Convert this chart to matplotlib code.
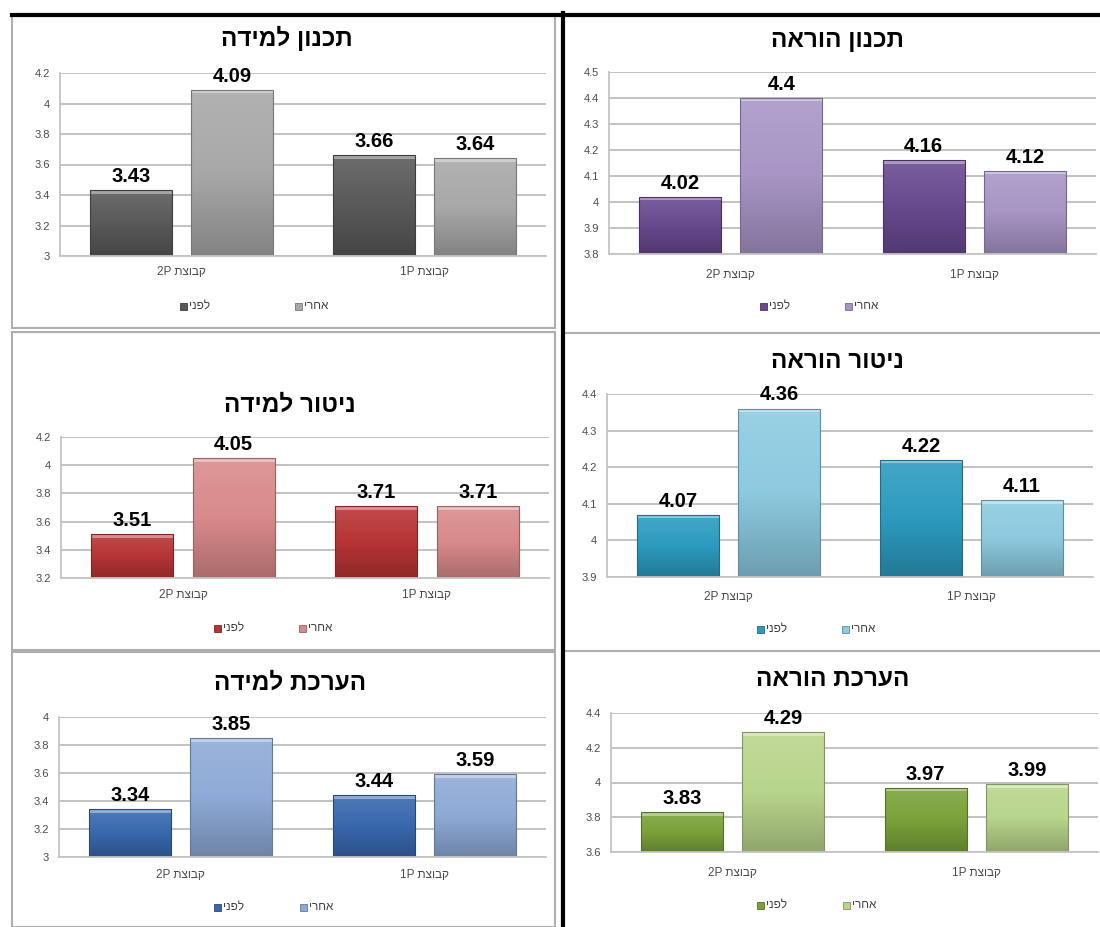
import numpy as np
import matplotlib
matplotlib.use("Agg")
import matplotlib.pyplot as plt
from matplotlib.colors import to_rgb, LinearSegmentedColormap
from matplotlib.patches import Rectangle
from matplotlib.lines import Line2D

W, H = 1100, 927
plt.rcParams['font.family'] = ['Liberation Sans', 'DejaVu Sans']


def rtl(s):
    # matplotlib lays text out left to right, so Hebrew goes in reversed
    return s[::-1]


groups = ["2P", "1P"]
group_word = "קבוצת"
legend_words = ["לפני", "אחרי"]

titles = ["תכנון למידה", "תכנון הוראה",
          "ניטור למידה", "ניטור הוראה",
          "הערכת למידה", "הערכת הוראה"]
before = [[3.43, 3.66], [4.02, 4.16],
          [3.51, 3.71], [4.07, 4.22],
          [3.34, 3.44], [3.83, 3.97]]
after = [[4.09, 3.64], [4.4, 4.12],
         [4.05, 3.71], [4.36, 4.11],
         [3.85, 3.59], [4.29, 3.99]]
y_scales = [(3.0, 4.2, 0.2), (3.8, 4.5, 0.1),
            (3.2, 4.2, 0.2), (3.9, 4.4, 0.1),
            (3.0, 4.0, 0.2), (3.6, 4.4, 0.2)]
palettes = [("#595959", "#a8a8a8"), ("#68498f", "#a895c6"),
            ("#b73434", "#d98a8a"), ("#2c9bbf", "#8ccae0"),
            ("#3868ad", "#8eaad6"), ("#7aa23a", "#b8d58b")]

# pixel layout of each chart: axes box, title spot, category row, legend keys
layout = [
    dict(ax=(60, 546, 73, 256), title=(287, 38), cat_y=272, leg=(183, 298, 306)),
    dict(ax=(609, 1096, 72, 254), title=(837, 40), cat_y=275, leg=(763, 848, 306)),
    dict(ax=(61, 549, 437, 578), title=(290, 405), cat_y=595, leg=(217, 302, 628)),
    dict(ax=(607, 1093, 394, 577), title=(837, 362), cat_y=597, leg=(760, 845, 629)),
    dict(ax=(59, 546, 717, 857), title=(290, 683), cat_y=875, leg=(217, 303, 907)),
    dict(ax=(611, 1098, 713, 852), title=(833, 680), cat_y=873, leg=(760, 846, 905)),
]


def fx(px):
    return px / W


def fy(py):
    return 1 - py / H


def mix(c, other, t):
    c = np.array(to_rgb(c))
    o = np.array(to_rgb(other))
    return tuple(c * (1 - t) + o * t)


def bevel_bar(ax, bar, color, px_unit):
    x, w, top = bar.get_x(), bar.get_width(), bar.get_height()
    lo = ax.get_ylim()[0]
    cmap = LinearSegmentedColormap.from_list(
        "g", [mix(color, "black", 0.22), color, mix(color, "white", 0.12)])
    grad = np.linspace(0, 1, 128).reshape(-1, 1)
    im = ax.imshow(grad, extent=(x, x + w, lo, top), origin="lower",
                   cmap=cmap, aspect="auto", zorder=2.1, interpolation="bilinear")
    im.set_clip_path(bar)
    # light rim along the top of the bar
    ax.add_patch(Rectangle((x, top - 3.5 * px_unit), w, 3.5 * px_unit,
                           facecolor=mix(color, "white", 0.45),
                           edgecolor="none", zorder=2.2))
    ax.add_patch(Rectangle((x, lo), w, top - lo, facecolor="none",
                           edgecolor=mix(color, "black", 0.3), lw=0.8, zorder=2.3))


fig = plt.figure(figsize=(W / 100, H / 100), dpi=100)

offset = 0.208
width = 0.337
xs = np.arange(len(groups))

for i in range(6):
    L = layout[i]
    x0, x1, yt, yb = L["ax"]
    ax = fig.add_axes([fx(x0), fy(yb), fx(x1 - x0), (yb - yt) / H])
    lo, hi, step = y_scales[i]
    ax.set_xlim(-0.5, len(groups) - 0.5)
    ax.set_ylim(lo, hi)
    px_unit = (hi - lo) / (yb - yt)

    dark, light = palettes[i]
    for vals, col, sgn in [(before[i], dark, -1), (after[i], light, 1)]:
        bars = ax.bar(xs + sgn * offset, vals, width, color=col, zorder=2)
        for b, v in zip(bars, vals):
            bevel_bar(ax, b, col, px_unit)
            ax.annotate(f"{v:g}", (b.get_x() + b.get_width() / 2, v),
                        xytext=(0, 3), textcoords="offset points",
                        ha="center", va="bottom", fontsize=14.5,
                        fontweight="bold", color="black", zorder=5)

    ticks = np.round(np.arange(lo, hi + step / 2, step), 2)
    ax.set_yticks(ticks)
    ax.set_yticklabels([f"{t:g}" for t in ticks])
    ax.tick_params(axis="y", length=0, pad=7, labelsize=8, labelcolor="#4a4a4a")
    ax.set_xticks([])
    ax.grid(axis="y", color="#bdbdbd", lw=1.3, zorder=0)
    ax.set_axisbelow(True)
    for s in ["top", "right"]:
        ax.spines[s].set_visible(False)
    for s in ["left", "bottom"]:
        ax.spines[s].set_color("#c4c4c4")
        ax.spines[s].set_linewidth(1.3)
    ax.patch.set_alpha(0)

    # category labels under each pair of bars
    cy = (yb - L["cat_y"]) / (yb - yt)
    for gx, g in zip(xs, groups):
        ax.text(gx, cy, f"{g} {rtl(group_word)}", transform=ax.get_xaxis_transform(),
                ha="center", va="center", fontsize=8.5, color="#4a4a4a", clip_on=False)

    tx, ty = L["title"]
    fig.text(fx(tx), fy(ty), rtl(titles[i]), ha="center", va="center",
             fontsize=17.5, fontweight="bold", color="black")

    # legend keys
    lx1, lx2, ly = L["leg"]
    for lx, col, word in [(lx1, dark, legend_words[0]), (lx2, light, legend_words[1])]:
        fig.add_artist(Rectangle((fx(lx - 3.5), fy(ly + 3.5)), fx(7), 7 / H,
                                 transform=fig.transFigure, facecolor=col,
                                 edgecolor=mix(col, "black", 0.3), lw=0.6))
        fig.text(fx(lx + 6), fy(ly), rtl(word), ha="left", va="center",
                 fontsize=8.5, color="#404040")

# frames around the charts
gray = "#aeaeae"
for (a, b, c, d) in [(12, 555, 15, 328), (12, 555, 332, 650), (12, 555, 652, 927)]:
    fig.add_artist(Rectangle((fx(a), fy(d)), fx(b - a), (d - c) / H,
                             transform=fig.transFigure, facecolor="none",
                             edgecolor=gray, lw=1.5))
for y in [333, 651]:
    fig.add_artist(Line2D([fx(566), 1], [fy(y), fy(y)], transform=fig.transFigure,
                          color=gray, lw=1.5))
fig.add_artist(Line2D([fx(12), 1], [fy(15), fy(15)], transform=fig.transFigure,
                      color="black", lw=3))
fig.add_artist(Line2D([fx(563), fx(563)], [fy(13), 0], transform=fig.transFigure,
                      color="black", lw=3))

fig.savefig("out.png", dpi=100)
